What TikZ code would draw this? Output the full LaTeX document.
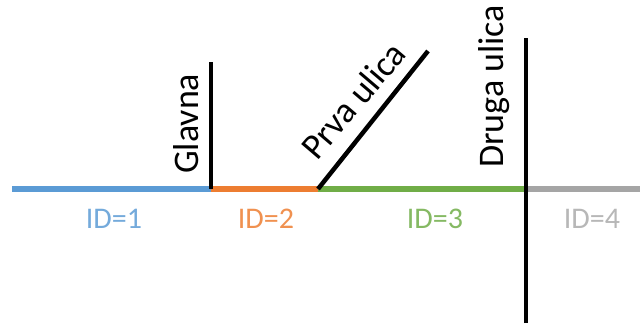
\documentclass[tikz,border=0pt]{standalone}
\usepackage{fontspec}
\setmainfont{Carlito}
\usetikzlibrary{positioning}

\definecolor{segblue}{HTML}{5B9BD5}
\definecolor{segorange}{HTML}{ED7D31}
\definecolor{seggreen}{HTML}{70AD47}
\definecolor{seggray}{HTML}{A5A5A5}

\begin{document}
\begin{tikzpicture}[x=1pt, y=1pt, street/.style={line width=4.5pt, black}, segment/.style={line width=6.5pt},
  street name/.style={inner sep=0pt, font=\fontsize{36}{40}\selectfont}, id label/.style={font=\fontsize{30}{36}\selectfont}]

  \useasboundingbox (0,0) rectangle (640,327);

  % Define junctions
  \coordinate (a) at (12,138);
  \coordinate (b) at (211,138);
  \coordinate (c) at (318,138);
  \coordinate (d) at (526,138);
  \coordinate (e) at (640,138);
  \coordinate (glavnatop) at (211,265);
  \coordinate (prvatop) at (428,276);
  \coordinate (drugatop) at (526,289);
  \coordinate (drugabot) at (526,4);

  % Define segments
  \draw[segment, segblue] (a) -- (b);
  \draw[segment, segorange] (b) -- (c);
  \draw[segment, seggreen] (c) -- (d);
  \draw[segment, seggray] (d) -- (e);

  % Define streets
  \draw[street] (b) -- (glavnatop);
  \draw[street] (c) -- (prvatop);
  \draw[street] (drugabot) -- (drugatop);

  % Define labels
  \node[street name, rotate=90, anchor=base west] (glavna) at (198,153) {Glavna};
  \node[street name, rotate=49.5, anchor=base west] (prva) at (317,165) {Prva ulica};
  \node[street name, rotate=90, anchor=base west] (druga) at (503,159) {Druga ulica};
  \node[id label, text=segblue!85] (id1) at (114,108) {ID=1};
  \node[id label, text=segorange!85] (id2) at (266,108) {ID=2};
  \node[id label, text=seggreen!85] (id3) at (435,108) {ID=3};
  \node[id label, text=seggray!80] (id4) at (592,108) {ID=4};
\end{tikzpicture}
\end{document}
